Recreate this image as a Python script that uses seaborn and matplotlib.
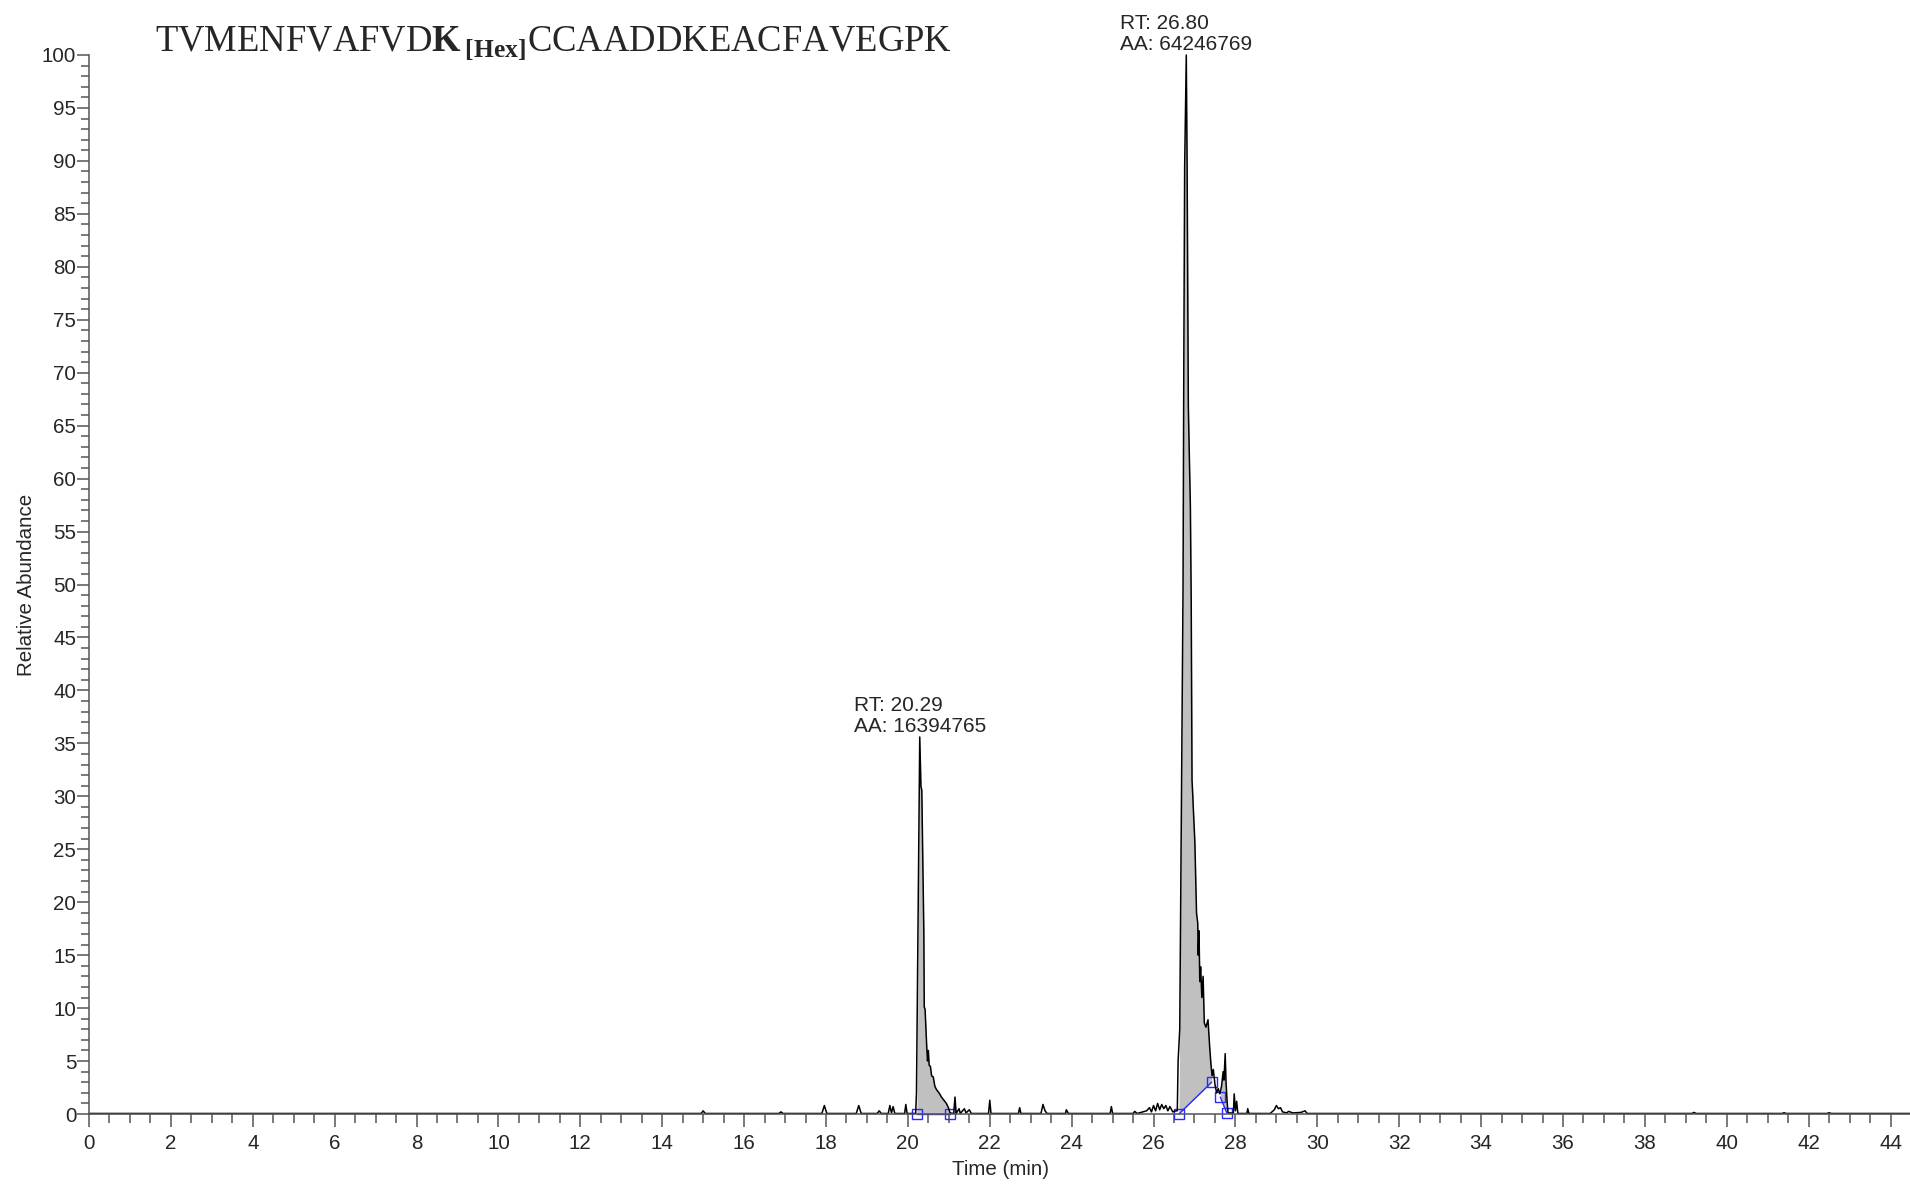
import numpy as np
import seaborn as sns
from matplotlib import pyplot as plt
from matplotlib.ticker import MultipleLocator

# chromatogram trace (time in min, relative abundance in %)
TIME = [0.0, 4.0, 8.0, 12.0, 14.95, 15.0, 15.05, 16.85, 16.9, 16.95,
        17.9, 17.96, 18.02, 18.74, 18.8, 18.86, 19.25, 19.3, 19.35,
        19.52, 19.56, 19.6, 19.64, 19.68, 19.92, 19.95, 19.98,
        20.19, 20.21, 20.29, 20.32, 20.34, 20.39, 20.40, 20.42, 20.46, 20.48,
        20.50, 20.52, 20.55, 20.58, 20.62, 20.66, 20.70, 20.76, 20.82, 20.88,
        20.94, 20.99, 21.03, 21.12, 21.15, 21.18, 21.25, 21.28, 21.38, 21.42,
        21.50, 21.55, 21.97, 22.00, 22.03, 22.70, 22.73, 22.76, 23.25, 23.30,
        23.35, 23.40, 23.85, 23.87, 23.92, 24.94, 24.97, 25.00, 25.50, 25.54,
        25.60, 25.83, 25.90, 25.95, 26.00, 26.05, 26.10, 26.15, 26.20, 26.25,
        26.30, 26.35, 26.40, 26.47, 26.55, 26.58, 26.60, 26.64, 26.68, 26.72,
        26.74, 26.76, 26.80, 26.82, 26.85, 26.90, 26.92, 26.94, 26.96, 26.97,
        27.01, 27.05, 27.08, 27.09, 27.11, 27.13, 27.15, 27.18, 27.21, 27.24,
        27.28, 27.33, 27.37, 27.40, 27.43, 27.46, 27.50, 27.54, 27.58, 27.62,
        27.66, 27.70, 27.72, 27.75, 27.77, 27.80, 27.82, 27.95, 27.97, 28.00,
        28.03, 28.06, 28.28, 28.30, 28.33, 28.85, 28.95, 29.00, 29.05, 29.10,
        29.15, 29.25, 29.30, 29.40, 29.60, 29.70, 29.75, 32.0, 36.0, 39.15,
        39.2, 39.25, 41.35, 41.4, 41.45, 42.45, 42.5, 42.55, 44.5]
ABUNDANCE = [0.05, 0.05, 0.05, 0.05, 0.05, 0.3, 0.05, 0.05, 0.2, 0.05,
             0.05, 0.8, 0.05, 0.05, 0.8, 0.05, 0.05, 0.3, 0.05,
             0.05, 0.8, 0.1, 0.7, 0.05, 0.05, 0.9, 0.05,
             0.05, 2.0, 35.6, 30.9, 30.6, 17.1, 10.1, 9.9, 6.4, 5.0,
             6.0, 4.6, 4.5, 3.6, 3.5, 2.6, 2.3, 2.0, 1.6, 1.3,
             1.0, 0.6, 0.1, 0.05, 1.6, 0.05, 0.5, 0.05, 0.5, 0.1,
             0.4, 0.05, 0.05, 1.3, 0.05, 0.05, 0.6, 0.05, 0.05, 0.9,
             0.3, 0.05, 0.05, 0.4, 0.05, 0.05, 0.7, 0.05, 0.05, 0.25,
             0.05, 0.3, 0.6, 0.2, 0.8, 0.3, 1.0, 0.4, 0.9, 0.5,
             0.8, 0.3, 0.7, 0.2, 0.3, 0.3, 5.0, 8.0, 28.4, 49.5,
             71.5, 89.5, 100.0, 89.5, 66.8, 57.3, 48.5, 31.5, 30.0, 29.0,
             25.6, 19.0, 18.0, 15.0, 17.3, 12.5, 13.9, 11.0, 13.0, 8.6,
             8.2, 8.9, 6.4, 4.8, 3.6, 4.2, 2.8, 2.0, 2.4, 1.9,
             2.6, 4.0, 3.2, 5.7, 3.0, 1.0, 0.1, 0.1, 1.9, 0.3,
             1.2, 0.05, 0.05, 0.5, 0.05, 0.05, 0.4, 0.8, 0.5, 0.6,
             0.2, 0.1, 0.25, 0.1, 0.15, 0.3, 0.05, 0.05, 0.05, 0.05,
             0.15, 0.05, 0.05, 0.12, 0.05, 0.05, 0.12, 0.05, 0.05]

# integrated peaks: start/end time and baseline level at each end
PEAK_START = [20.22, 26.62, 27.63]
PEAK_START_LEVEL = [0.0, 0.0, 1.6]
PEAK_END = [21.03, 27.42, 27.79]
PEAK_END_LEVEL = [0.0, 3.0, 0.1]

# labelled apexes
APEX_RT = [20.29, 26.80]
APEX_HEIGHT = [35.6, 100.0]
APEX_AREA = [16394765, 64246769]

TITLE = r"TVMENFVAFVD$\mathbf{K}_{\,\mathbf{[Hex]}}$CCAADDKEACFAVEGPK"

sns.set_style("ticks")
plt.rcParams['font.family'] = ['Liberation Sans', 'DejaVu Sans']
plt.rcParams['mathtext.fontset'] = 'custom'
plt.rcParams['mathtext.rm'] = 'Liberation Serif'
plt.rcParams['mathtext.bf'] = 'Liberation Serif:bold'

fig = plt.figure(figsize=(19.1, 11.84), dpi=100)
ax = fig.add_axes([89 / 1910, 70 / 1184, 1822 / 1910, 1059 / 1184])

time = np.array(TIME)
ab = np.array(ABUNDANCE)

# grey fill between the trace and each peak's integration baseline
for t0, y0, t1, y1 in zip(PEAK_START, PEAK_START_LEVEL, PEAK_END, PEAK_END_LEVEL):
    mask = (time >= t0) & (time <= t1)
    xs = np.concatenate([[t0], time[mask], [t1]])
    ys = np.concatenate([[y0], ab[mask], [y1]])
    base = y0 + (xs - t0) * (y1 - y0) / (t1 - t0)
    ax.fill_between(xs, base, np.maximum(ys, base), color='#c0c0c0', linewidth=0)
    ax.plot([t0, t1], [y0, y1], color='#2a2aff', linewidth=1.0)
    ax.plot([t0, t1], [y0, y1], linestyle='none', marker='s', markersize=7,
            markerfacecolor='none', markeredgecolor='#2a2aff', markeredgewidth=1.0,
            clip_on=False)

sns.lineplot(x=time, y=ab, ax=ax, color='black', linewidth=1.1,
             estimator=None, sort=False)
for line in ax.lines:
    line.set_clip_on(False)

for rt, h, area in zip(APEX_RT, APEX_HEIGHT, APEX_AREA):
    ax.annotate(f"RT: {rt:.2f}\nAA: {area}", xy=(rt, h), xytext=(0, 1),
                textcoords='offset points', ha='center', va='bottom',
                multialignment='left', fontsize=15, linespacing=1.1)

ax.set_xlim(0, 44.5)
ax.set_ylim(0, 100)
ax.xaxis.set_major_locator(MultipleLocator(2))
ax.xaxis.set_minor_locator(MultipleLocator(0.5))
ax.yaxis.set_major_locator(MultipleLocator(5))
ax.yaxis.set_minor_locator(MultipleLocator(1))
ax.tick_params(axis='x', which='major', length=9.4, width=1.1, color='#555555',
               labelsize=14.8, pad=5)
ax.tick_params(axis='x', which='minor', length=6.5, width=1.1, color='#555555')
ax.tick_params(axis='y', which='major', length=8.6, width=1.1, color='#555555',
               labelsize=14.8, pad=0.5)
ax.tick_params(axis='y', which='minor', length=6, width=1.1, color='#555555')
sns.despine(ax=ax)
for side in ['left', 'bottom']:
    ax.spines[side].set_color('#555555')
    ax.spines[side].set_linewidth(1.1)

ax.set_xlabel("Time (min)", fontsize=14.8, labelpad=5)
ax.set_ylabel("Relative Abundance", fontsize=14.8, labelpad=4)

fig.text(155 / 1910, 1 - 51 / 1184, TITLE, family='Liberation Serif',
         fontsize=26.4, va='baseline', ha='left')

fig.savefig('out.png', dpi=100)
